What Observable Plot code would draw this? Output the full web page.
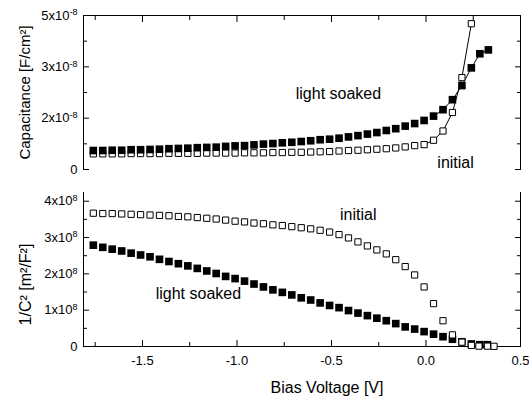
<!DOCTYPE html>
<html><head><meta charset="utf-8">
<script src="https://cdn.jsdelivr.net/npm/d3@7"></script>
<script src="https://cdn.jsdelivr.net/npm/@observablehq/plot@0.6"></script>
<style>
body{margin:0;background:#fff;}
#chart{position:relative;width:529px;height:399px;overflow:hidden;background:#fff;}
#chart svg{position:absolute;left:0;}
</style></head><body><div id="chart"></div>
<script>
// ---- data ----
// bias voltage grid [V]
const volts = [-1.76,-1.71,-1.66,-1.61,-1.56,-1.51,-1.46,-1.41,-1.36,-1.31,-1.26,-1.21,-1.16,-1.11,-1.06,-1.01,-0.96,-0.91,-0.86,-0.81,-0.76,-0.71,-0.66,-0.61,-0.56,-0.51,-0.46,-0.41,-0.36,-0.31,-0.26,-0.21,-0.16,-0.11,-0.06,-0.01,0.04,0.09,0.14,0.19,0.24];
// Capacitance, units of 1e-8 F/cm^2
const capVoltsInit = volts;
const capInit = [0.61,0.61,0.61,0.61,0.62,0.62,0.62,0.62,0.63,0.63,0.63,0.63,0.64,0.64,0.64,0.64,0.65,0.65,0.65,0.66,0.66,0.67,0.67,0.68,0.69,0.70,0.72,0.74,0.75,0.77,0.79,0.81,0.84,0.88,0.93,0.97,1.14,1.50,2.22,3.58,5.68];
const capVoltsLS = [...volts, 0.285, 0.33];
const capLS = [0.74,0.74,0.75,0.75,0.77,0.77,0.78,0.79,0.81,0.82,0.83,0.85,0.86,0.87,0.90,0.92,0.93,0.96,0.99,1.01,1.04,1.06,1.09,1.12,1.16,1.18,1.22,1.27,1.32,1.38,1.44,1.52,1.59,1.69,1.79,1.91,2.08,2.33,2.72,3.27,3.96,4.51,4.66];
// 1/C^2, units of 1e8 m^2/F^2
const invVoltsInit = [...volts, 0.28, 0.325, 0.36];
const invInit = [3.67,3.66,3.66,3.65,3.64,3.63,3.62,3.61,3.60,3.58,3.57,3.55,3.53,3.51,3.48,3.45,3.43,3.40,3.38,3.35,3.33,3.30,3.27,3.24,3.20,3.15,3.08,2.99,2.88,2.77,2.66,2.55,2.39,2.20,1.97,1.64,1.18,0.71,0.32,0.12,0.03,0.01,0.01,0.005];
const invVoltsLS = [...volts, 0.285, 0.325];
const invLS = [2.79,2.73,2.68,2.63,2.57,2.52,2.47,2.40,2.34,2.28,2.22,2.15,2.08,2.01,1.93,1.87,1.80,1.72,1.64,1.56,1.49,1.42,1.34,1.28,1.20,1.13,1.07,0.99,0.92,0.85,0.78,0.71,0.63,0.54,0.48,0.41,0.34,0.27,0.20,0.13,0.07,0.05,0.05];
// connecting line only on the steep tail of the capacitance curves (from this index on)
const capInitLineFrom = 35;
const capLSLineFrom = 36;

// ticks
const xMajor = [-1.5,-1.0,-0.5,0.0,0.5];
const xMajorLabels = ["-1.5","-1.0","-0.5","0.0","0.5"];
const xMinor = [-1.75,-1.25,-0.75,-0.25,0.25];
const capMajor = [0,2,4,6];
const capLabels = ["0","2x10^-8","3x10^-8","5x10^-8"];
const capMinor = [1,3,5];
const invMajor = [0,1,2,3,4];
const invLabels = ["0","1x10^8","2x10^8","3x10^8","4x10^8"];
const invMinor = [0.5,1.5,2.5,3.5];

// annotations
const capNotes = [{x:-0.689, y:2.96, text:"light soaked"},{x:0.06, y:0.25, text:"initial"}];
const invNotes = [{x:-0.455, y:3.62, text:"initial"},{x:-1.43, y:1.45, text:"light soaked"}];

const xDomain = [-1.812, 0.5];
const FONT = "'Liberation Sans', Arial, Helvetica, sans-serif";

const rows = (xs, ys) => xs.map((v, i) => ({v, c: ys[i]}));
const dCapInit = rows(capVoltsInit, capInit);
const dCapLS = rows(capVoltsLS, capLS);
const dInvInit = rows(invVoltsInit, invInit);
const dInvLS = rows(invVoltsLS, invLS);

const hollow = {x:"v", y:"c", symbol:"square", r:3.5, fill:"white", stroke:"black", strokeWidth:1};
const filled = {x:"v", y:"c", symbol:"square", r:4.3, fill:"black"};

function yTicks(major, minor, labels) {
  return [
    Plot.axisY(major, {anchor:"left", tickSize:6, dx:6, fill:"none"}),
    Plot.axisY(minor, {anchor:"left", tickSize:4, dx:4, fill:"none"}),
    Plot.axisY(major, {anchor:"right", tickSize:6, dx:-6, fill:"none"}),
    Plot.axisY(minor, {anchor:"right", tickSize:4, dx:-4, fill:"none"}),
    Plot.axisY(major, {anchor:"left", tickSize:0, tickPadding:6, fontSize:13,
      tickFormat: d => labels[major.indexOf(d)]})
  ];
}

const topPlot = Plot.plot({
  width: 529, height: 180,
  marginTop: 15, marginBottom: 11, marginLeft: 83, marginRight: 9,
  style: {fontFamily: FONT, fontSize: "13px", color: "black", background: "white", overflow: "visible"},
  x: {domain: xDomain, axis: null},
  y: {domain: [0, 6], axis: null},
  marks: [
    Plot.ruleY([6], {stroke:"black"}),
    Plot.ruleX(xDomain, {stroke:"black"}),
    ...yTicks(capMajor, capMinor, capLabels),
    Plot.axisX(xMajor, {anchor:"top", tickSize:6, dy:6, fill:"none"}),
    Plot.axisX(xMinor, {anchor:"top", tickSize:4, dy:4, fill:"none"}),
    Plot.line(dCapInit.slice(capInitLineFrom), {x:"v", y:"c", stroke:"black", strokeWidth:1}),
    Plot.line(dCapLS.slice(capLSLineFrom), {x:"v", y:"c", stroke:"black", strokeWidth:1}),
    Plot.dot(dCapInit, hollow),
    Plot.dot(dCapLS, filled),
    Plot.text(capNotes, {x:"x", y:"y", text:"text", textAnchor:"start", fontSize:16}),
    Plot.text(["Capacitance [F/cm²]"], {frameAnchor:"left", textAnchor:"middle", lineAnchor:"middle", rotate:-90, dx:-58, fontSize:15})
  ]
});
topPlot.style.top = "0px";

const botPlot = Plot.plot({
  width: 529, height: 219,
  marginTop: 12, marginBottom: 53, marginLeft: 83, marginRight: 9,
  style: {fontFamily: FONT, fontSize: "13px", color: "black", background: "white", overflow: "visible"},
  x: {domain: xDomain, axis: null},
  y: {domain: [0, 4.24], axis: null},
  marks: [
    Plot.ruleY([0], {stroke:"black"}),
    Plot.ruleX(xDomain, {stroke:"black"}),
    ...yTicks(invMajor, invMinor, invLabels),
    Plot.axisX(xMajor, {anchor:"bottom", tickSize:6, dy:-6, fill:"none"}),
    Plot.axisX(xMinor, {anchor:"bottom", tickSize:4, dy:-4, fill:"none"}),
    Plot.axisX(xMajor, {anchor:"bottom", tickSize:0, tickPadding:9, fontSize:13,
      tickFormat: d => xMajorLabels[xMajor.indexOf(d)]}),
    Plot.dot(dInvLS, filled),
    Plot.dot(dInvInit, hollow),
    Plot.text(invNotes, {x:"x", y:"y", text:"text", textAnchor:"start", fontSize:16}),
    Plot.text(["1/C² [m²/F²]"], {frameAnchor:"left", textAnchor:"middle", lineAnchor:"middle", rotate:-90, dx:-58, dy:15, fontSize:16}),
    Plot.text(["Bias Voltage [V]"], {frameAnchor:"bottom", textAnchor:"middle", lineAnchor:"middle", dx:25, dy:41, fontSize:16})
  ]
});
botPlot.style.top = "180px";

// superscripts in the y tick labels ("5x10^-8" -> 5x10 with raised -8)
for (const svg of [topPlot, botPlot]) {
  svg.querySelectorAll('g[aria-label="y-axis tick label"] text').forEach(t => {
    const s = t.textContent;
    const k = s.indexOf("^");
    if (k < 0) return;
    t.textContent = s.slice(0, k);
    const ts = document.createElementNS("http://www.w3.org/2000/svg", "tspan");
    ts.setAttribute("dy", "-0.5em");
    ts.setAttribute("font-size", "9px");
    ts.textContent = s.slice(k + 1);
    t.appendChild(ts);
  });
}

const chart = document.getElementById("chart");
chart.appendChild(topPlot);
chart.appendChild(botPlot);
</script></body></html>
